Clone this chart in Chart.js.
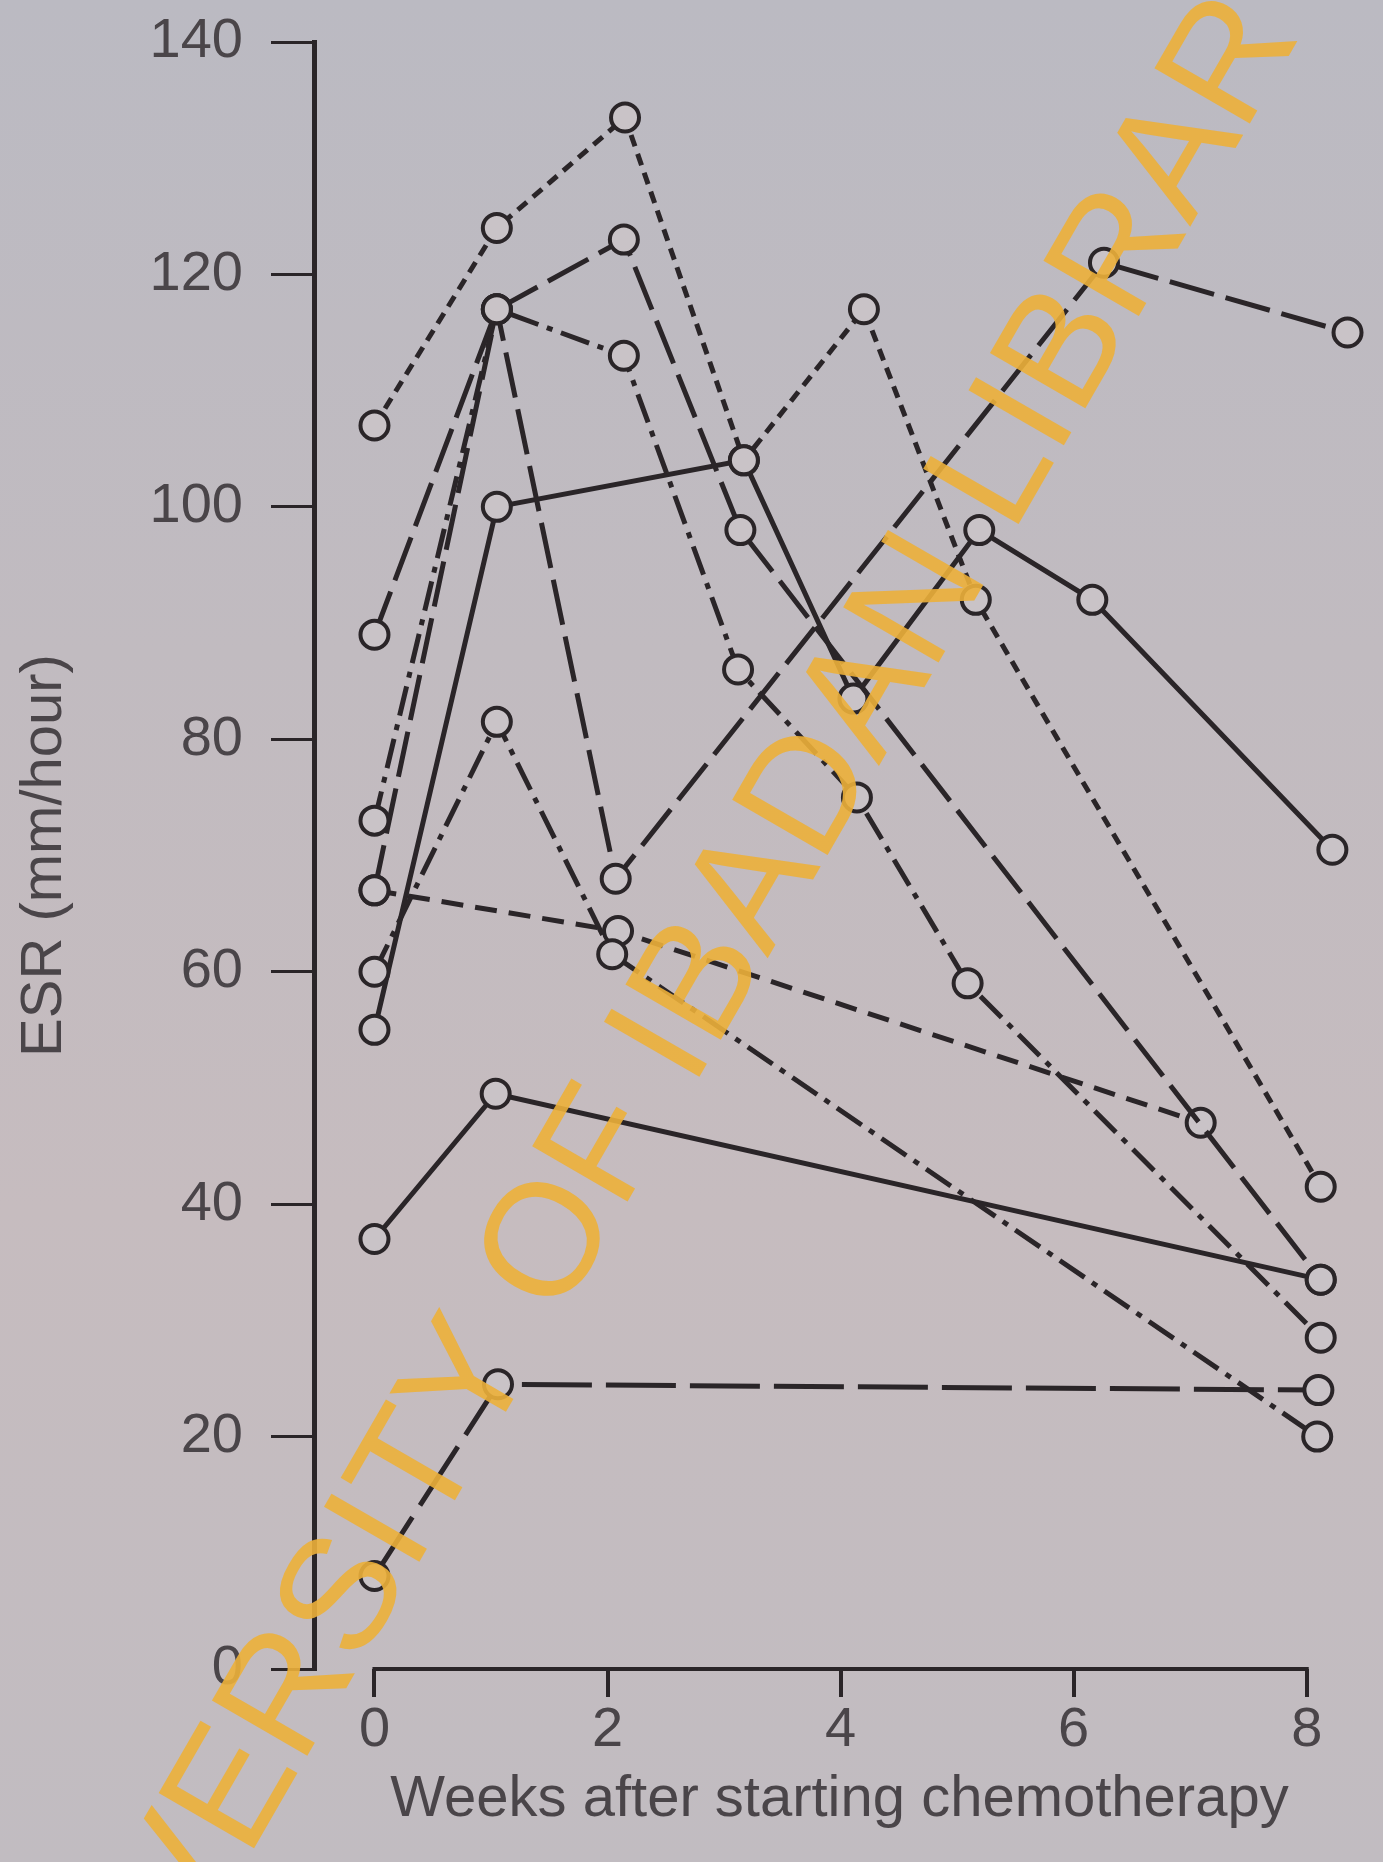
<!DOCTYPE html>
<html>
<head>
<meta charset="utf-8">
<title>ESR after starting chemotherapy</title>
<script src="https://cdn.jsdelivr.net/npm/chart.js@4.4.1/dist/chart.umd.min.js"></script>
<style>
  html, body { margin: 0; padding: 0; }
  body {
    width: 1383px; height: 1862px; overflow: hidden;
    background: linear-gradient(180deg, #bbbac2 0%, #c1bbc0 35%, #c6bcbf 65%, #c1bcc1 100%);
  }
  #wrap { position: relative; width: 1383px; height: 1862px; }
</style>
</head>
<body>
<div id="wrap"><canvas id="esrChart"></canvas></div>
<script>
// Axis ticks
const weekTicks = [0, 2, 4, 6, 8];
const esrMin = 0;
const esrMax = 140;
const esrStep = 20;

// One pair of arrays per patient: week of the reading, ESR (mm/hour)
const p1Weeks = [0, 1.05, 2.15, 3.17, 4.2, 5.16, 8.12];
const p1Esr   = [107, 124, 133.5, 104, 117, 92, 41.5];

const p2Weeks = [0, 1.05, 2.14, 3.14, 8.12];
const p2Esr   = [89, 117, 123, 98, 33.5];

const p3Weeks = [0, 1.05, 2.14, 3.12, 4.14, 5.09, 8.12];
const p3Esr   = [73, 117, 113, 86, 75, 59, 28.5];

const p4Weeks = [0, 1.05, 2.07, 6.26, 8.35];
const p4Esr   = [67, 117, 68, 121, 115];

const p5Weeks = [0, 1.05, 2.04, 8.09];
const p5Esr   = [60, 81.5, 61.5, 20];

const p6Weeks = [0, 2.09, 7.09];
const p6Esr   = [67, 63.5, 47];

const p7Weeks = [0, 1.05, 3.17, 4.11, 5.19, 6.16, 8.22];
const p7Esr   = [55, 100, 104, 83.5, 98, 92, 70.5];

const p8Weeks = [0, 1.04, 8.12];
const p8Esr   = [37, 49.5, 33.5];

const p9Weeks = [0, 1.06, 8.1];
const p9Esr   = [8, 24.5, 24];

// Line styles
const ink = '#2a2528';
const textInk = '#4a4549';
const markerFill = '#c9c3c7';
const shortDash = [12, 8];
const longDash = [46, 12];
const longerDash = [70, 14];
const dashDot = [30, 9, 6, 9];
const medDash = [22, 12];
const solid = [];

function toPoints(weeks, values) {
    return weeks.map((w, i) => ({ x: w, y: values[i] }));
}

function patient(weeks, values, dash) {
    return {
        data: toPoints(weeks, values),
        borderColor: ink,
        borderWidth: 5,
        borderDash: dash,
        borderCapStyle: 'butt',
        tension: 0,
        fill: false,
        pointStyle: 'circle',
        pointRadius: 14,
        pointBorderWidth: 4,
        pointBorderColor: ink,
        pointBackgroundColor: markerFill
    };
}

// x axis line runs only from week 0 to week 8, as in the original
const xAxisLine = {
    id: 'xAxisLine',
    beforeDatasetsDraw(chart) {
        const { ctx, chartArea, scales } = chart;
        const x0 = scales.x.getPixelForValue(weekTicks[0]);
        const x1 = scales.x.getPixelForValue(weekTicks[weekTicks.length - 1]);
        ctx.save();
        ctx.strokeStyle = ink;
        ctx.lineWidth = 4;
        ctx.beginPath();
        ctx.moveTo(x0 - 2, chartArea.bottom);
        ctx.lineTo(x1 + 2, chartArea.bottom);
        ctx.stroke();
        ctx.restore();
    }
};

// library stamp across the figure
const watermark = {
    id: 'watermark',
    afterDraw(chart) {
        const ctx = chart.ctx;
        ctx.save();
        ctx.font = '160px "Liberation Sans", Arial, sans-serif';
        ctx.fillStyle = 'rgba(236, 176, 58, 0.9)';
        ctx.textBaseline = 'middle';
        ctx.textAlign = 'left';
        ctx.translate(762, 880);
        ctx.rotate(-60 * Math.PI / 180);
        const lead = ctx.measureText('UNIV').width;
        const rest = ctx.measureText('ERSITY OF IBADAN LIBRARY').width;
        ctx.fillText('UNIVERSITY OF IBADAN LIBRARY', -rest / 2 - lead, 0);
        ctx.restore();
    }
};

const ctx = document.getElementById('esrChart').getContext('2d');
new Chart(ctx, {
    type: 'line',
    data: {
        datasets: [
            patient(p1Weeks, p1Esr, shortDash),
            patient(p2Weeks, p2Esr, longDash),
            patient(p3Weeks, p3Esr, dashDot),
            patient(p4Weeks, p4Esr, longDash),
            patient(p5Weeks, p5Esr, dashDot),
            patient(p6Weeks, p6Esr, medDash),
            patient(p7Weeks, p7Esr, solid),
            patient(p8Weeks, p8Esr, solid),
            patient(p9Weeks, p9Esr, longerDash)
        ]
    },
    options: {
        responsive: true,
        maintainAspectRatio: false,
        animation: false,
        layout: { padding: { top: 42, right: 9, left: 0, bottom: 0 } },
        plugins: {
            legend: { display: false },
            tooltip: { enabled: false }
        },
        scales: {
            x: {
                type: 'linear',
                min: -0.519,
                max: 8.5,
                afterFit(scale) {
                    scale.height = 193;
                    scale.paddingLeft = 0;
                    scale.paddingRight = 0;
                },
                afterBuildTicks(scale) {
                    scale.ticks = weekTicks.map(v => ({ value: v }));
                },
                border: { display: false },
                grid: {
                    drawOnChartArea: false,
                    drawTicks: true,
                    tickLength: 28,
                    color: ink,
                    lineWidth: 4
                },
                ticks: {
                    padding: 0,
                    color: textInk,
                    font: { family: '"Liberation Sans", Arial, sans-serif', size: 56 },
                    maxRotation: 0
                },
                title: {
                    display: true,
                    text: 'Weeks after starting chemotherapy',
                    color: textInk,
                    font: { family: '"Liberation Sans", Arial, sans-serif', size: 58 },
                    padding: { top: 0, bottom: 27 }
                }
            },
            y: {
                min: esrMin,
                max: esrMax,
                afterFit(scale) {
                    scale.width = 314;
                    scale.paddingTop = 0;
                    scale.paddingBottom = 0;
                },
                border: { display: true, color: ink, width: 5 },
                grid: {
                    drawOnChartArea: false,
                    drawTicks: true,
                    tickLength: 43,
                    color: ink,
                    lineWidth: 3
                },
                ticks: {
                    stepSize: esrStep,
                    padding: 28,
                    color: textInk,
                    font: { family: '"Liberation Sans", Arial, sans-serif', size: 56 }
                },
                title: {
                    display: true,
                    text: 'ESR (mm/hour)',
                    color: textInk,
                    font: { family: '"Liberation Sans", Arial, sans-serif', size: 58 },
                    padding: { top: 10, bottom: 0 }
                }
            }
        }
    },
    plugins: [xAxisLine, watermark]
});
</script>
</body>
</html>
